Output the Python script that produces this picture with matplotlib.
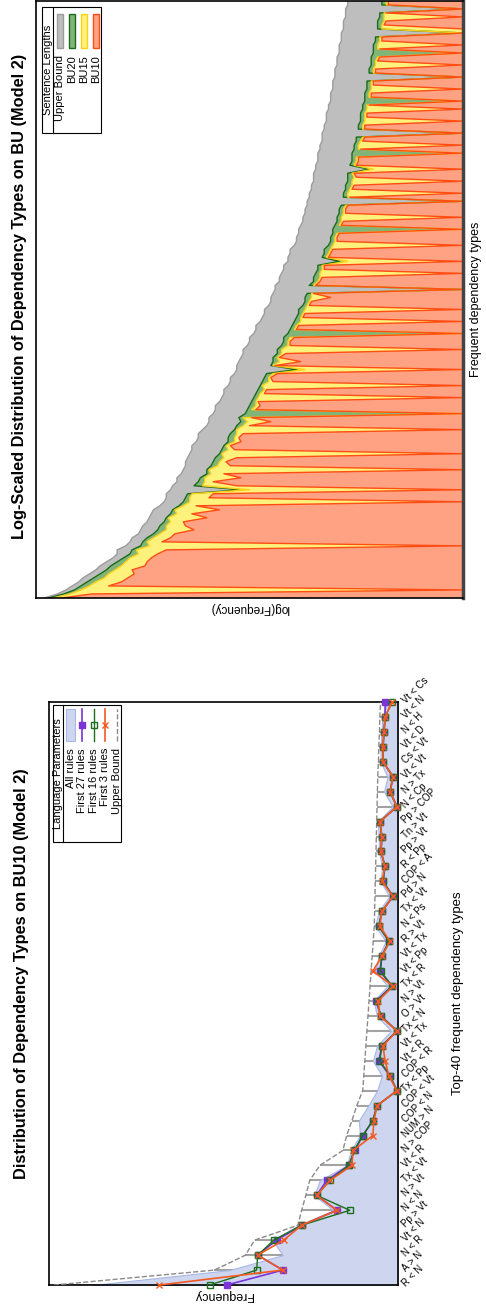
import numpy as np
import matplotlib
matplotlib.use("Agg")
import matplotlib.pyplot as plt
from matplotlib.patches import Rectangle
from matplotlib.lines import Line2D

plt.rcParams['font.family'] = ['Liberation Sans', 'DejaVu Sans']

# ---- log-scaled distribution over all frequent dependency types (log frequency) ----
upper_bound = [
    9.8, 9.5, 9.3, 9.15, 9.0, 8.9, 8.75, 8.6, 8.5, 8.35,
    8.2, 8.1, 8.1, 7.9, 7.8, 7.75, 7.6, 7.55, 7.5, 7.4,
    7.35, 7.3, 7.25, 7.1, 7.0, 6.95, 6.95, 6.85, 6.8, 6.7,
    6.7, 6.6, 6.55, 6.5, 6.5, 6.45, 6.4, 6.35, 6.35, 6.25,
    6.2, 6.2, 6.1, 6.0, 5.95, 5.95, 5.85, 5.8, 5.8, 5.7,
    5.65, 5.6, 5.6, 5.5, 5.45, 5.45, 5.35, 5.3, 5.3, 5.25,
    5.2, 5.15, 5.15, 5.05, 5.0, 5.0, 4.9, 4.85, 4.85, 4.75,
    4.7, 4.65, 4.65, 4.55, 4.5, 4.5, 4.45, 4.4, 4.4, 4.3,
    4.3, 4.25, 4.2, 4.2, 4.1, 4.1, 4.05, 4.05, 3.95, 3.9,
    3.9, 3.85, 3.85, 3.8, 3.75, 3.75, 3.7, 3.7, 3.65, 3.65,
    3.6, 3.6, 3.55, 3.55, 3.5, 3.5, 3.5, 3.45, 3.45, 3.4,
    3.4, 3.4, 3.35, 3.35, 3.3, 3.3, 3.3, 3.25, 3.25, 3.2,
    3.2, 3.2, 3.15, 3.15, 3.1, 3.1, 3.1, 3.05, 3.05, 3.05,
    3.0, 3.0, 3.0, 2.95, 2.95, 2.95, 2.9, 2.9, 2.9, 2.85,
    2.85, 2.85, 2.8, 2.8, 2.8, 2.75, 2.75, 2.75, 2.7, 2.7,
]
bu20 = [
    9.7, 9.35, 9.1, 8.95, 8.8, 8.65, 8.5, 8.35, 8.25, 8.1,
    7.95, 7.8, 7.75, 7.55, 7.5, 7.4, 7.25, 7.15, 7.1, 7.0,
    6.95, 6.85, 6.8, 6.65, 6.55, 6.5, 6.45, 5.2, 6.3, 6.2,
    6.15, 6.0, 6.0, 5.9, 5.85, 5.8, 5.7, 5.65, 5.6, 5.5,
    5.5, 5.45, 5.35, 5.3, 5.2, 5.25, 5.1, 5.05, 5.0, 4.95,
    4.9, 4.85, 4.8, 4.75, 4.7, 4.65, 4.6, 3.9, 4.5, 4.45,
    4.45, 4.35, 4.35, 4.25, 4.2, 4.2, 4.1, 4.05, 4.0, 3.95,
    3.9, 3.85, 3.85, 3.75, 3.7, 3.7, 3.65, 0.0, 3.6, 3.5,
    3.5, 3.45, 3.4, 3.4, 2.9, 3.3, 3.25, 3.25, 3.15, 3.1,
    3.1, 3.05, 3.05, 3.0, 2.95, 2.95, 2.9, 2.9, 2.85, 0.0,
    2.8, 2.8, 2.75, 2.75, 2.7, 2.7, 2.7, 2.2, 2.65, 2.6,
    2.6, 2.6, 2.55, 2.55, 2.5, 2.5, 0.0, 2.45, 2.45, 2.4,
    2.4, 2.4, 2.35, 2.35, 2.3, 2.3, 2.3, 2.25, 2.25, 2.25,
    0.0, 2.2, 2.2, 2.15, 2.15, 2.15, 2.1, 2.1, 2.1, 2.05,
    2.05, 0.0, 2.0, 2.0, 2.0, 1.95, 1.95, 0.0, 1.9, 1.9,
]
bu15 = [
    9.6, 9.2, 8.95, 8.75, 8.6, 8.4, 8.3, 8.15, 8.0, 7.9,
    7.8, 7.6, 7.65, 7.35, 7.4, 7.25, 7.1, 6.95, 6.95, 6.85,
    6.9, 6.7, 6.75, 6.55, 6.4, 6.4, 6.35, 5.0, 6.1, 6.05,
    6.05, 5.9, 5.95, 5.75, 5.7, 5.6, 5.65, 5.5, 5.55, 5.35,
    5.35, 5.3, 5.3, 5.15, 5.05, 5.15, 0.0, 4.95, 4.85, 4.85,
    4.8, 4.75, 4.65, 4.7, 4.55, 4.55, 4.45, 3.7, 4.45, 4.3,
    4.35, 4.25, 4.25, 4.1, 4.1, 4.05, 0.0, 3.95, 3.9, 3.8,
    3.8, 3.75, 3.7, 3.65, 3.6, 3.55, 3.55, 0.0, 3.5, 3.4,
    3.35, 3.35, 3.3, 3.3, 2.7, 3.2, 3.15, 3.1, 3.05, 3.0,
    3.0, 2.95, 0.0, 2.9, 2.85, 2.85, 2.8, 2.8, 2.75, 0.0,
    2.7, 2.7, 2.65, 2.6, 2.6, 2.55, 2.6, 2.1, 2.55, 2.5,
    2.5, 0.0, 2.45, 2.45, 2.4, 2.35, 0.0, 2.35, 2.35, 2.3,
    2.3, 2.3, 2.25, 2.25, 0.0, 2.2, 2.2, 2.15, 2.15, 2.15,
    0.0, 2.1, 2.1, 2.05, 2.05, 2.0, 0.0, 2.0, 2.0, 1.95,
    1.95, 0.0, 1.9, 1.9, 1.85, 1.85, 1.85, 0.0, 1.8, 1.8,
]
bu10 = [
    9.4, 8.7, 0.0, 8.3, 8.0, 7.85, 7.7, 7.75, 7.45, 7.4,
    7.3, 7.15, 6.95, 0.0, 7.05, 6.85, 6.75, 6.3, 6.5, 6.55,
    6.0, 6.35, 5.7, 6.25, 0.0, 5.95, 5.85, 0.0, 5.3, 5.85,
    5.2, 5.6, 0.0, 5.45, 5.55, 5.3, 0.0, 5.35, 5.45, 5.2,
    5.25, 5.15, 0.0, 5.0, 4.5, 4.95, 0.0, 4.85, 4.75, 4.8,
    0.0, 4.65, 4.6, 0.0, 4.45, 4.5, 4.35, 0.0, 4.4, 3.8,
    4.3, 4.15, 0.0, 4.05, 4.05, 3.95, 0.0, 3.9, 3.85, 0.0,
    3.75, 3.7, 0.0, 3.6, 3.55, 3.1, 3.5, 0.0, 3.45, 3.35,
    3.3, 0.0, 3.25, 3.25, 0.0, 3.15, 3.1, 3.05, 0.0, 2.95,
    2.95, 2.9, 0.0, 2.85, 2.8, 0.0, 2.75, 2.75, 2.7, 0.0,
    2.65, 0.0, 2.6, 2.55, 0.0, 2.5, 2.55, 0.0, 2.5, 2.45,
    2.45, 0.0, 2.4, 0.0, 2.35, 2.3, 0.0, 2.3, 2.3, 0.0,
    2.25, 2.25, 0.0, 2.2, 0.0, 2.15, 2.15, 0.0, 2.1, 2.1,
    0.0, 2.05, 2.05, 0.0, 2.0, 1.95, 0.0, 1.95, 0.0, 1.9,
    1.9, 0.0, 0.0, 1.85, 1.8, 0.0, 1.8, 0.0, 1.75, 1.75,
]

# ---- top-40 dependency types on BU10 (frequency) ----
dep_types = [
    'R < N', 'A > N', 'N < R', 'Vt < N', 'Pp > Vt', 'N < N', 'N > Vt', 'Tx < Vt',
    'Vt < R', 'N > COP', 'NUM > N', 'COP < N', 'COP < Vt', 'Tx < Pp', 'COP < R',
    'Vt < R', 'Vt < Tx', 'Tx < N', 'O > Vt', 'N > Vt', 'Tx < R', 'Vt < Pp',
    'Vt < Tx', 'R > Vt', 'N < Ps', 'Tx < Vt', 'Pd > N', 'COP < A', 'R < Pp',
    'Pp > Vt', 'Tn > Vt', 'Pp > COP', 'N < Cp', 'N > Tx', 'Vt < Vt', 'Cs < Vt',
    'Vt < D', 'N < H', 'Vt < N', 'Vt < Cs',
]
top40_bound = [
    98.6, 52.6, 43.7, 41.1, 28.7, 27.6, 26.4, 25.3, 22.4, 15.8,
    14.7, 13.2, 11.8, 10.1, 9.8, 9.5, 9.2, 8.9, 8.6, 8.3,
    8.0, 7.7, 7.4, 7.1, 6.8, 6.7, 6.6, 6.5, 6.4, 6.3,
    6.2, 6.1, 6.0, 5.9, 5.8, 5.6, 5.5, 5.3, 5.2, 5.0,
]
all_rules = [
    87.6, 48.3, 33.0, 36.0, 28.5, 18.5, 24.0, 22.4, 14.7, 13.5,
    10.9, 11.2, 8.5, 6.0, 4.6, 7.2, 6.0, 2.0, 6.0, 7.0,
    3.0, 6.5, 5.5, 3.5, 6.5, 5.5, 2.5, 5.0, 4.5, 5.5,
    5.5, 5.8, 1.5, 4.0, 3.0, 5.0, 5.0, 4.7, 4.5, 3.0,
]
first27 = [
    49.1, 33.0, 40.2, 34.8, 27.6, 17.5, 23.3, 20.4, 14.1, 12.4,
    10.1, 7.2, 6.0, 0.3, 2.3, 5.5, 4.6, 0.3, 4.9, 6.3,
    1.7, 5.2, 4.6, 2.6, 5.5, 4.6, 1.4, 4.3, 3.7, 4.9,
    4.6, 5.2, 0.3, 2.3, 1.4, 4.3, 4.3, 4.0, 3.7, 3.7,
]
first16 = [
    54.0, 40.5, 40.2, 35.6, 27.6, 13.8, 23.3, 19.5, 14.1, 12.6,
    10.1, 7.2, 6.0, 0.3, 2.3, 5.2, 4.6, 0.3, 4.9, 6.0,
    1.7, 5.0, 4.6, 2.6, 5.5, 4.6, 1.4, 4.3, 3.7, 4.9,
    4.6, 5.2, 0.3, 2.3, 1.4, 4.3, 4.3, 4.0, 3.7, 1.7,
]
first3 = [
    68.4, 33.0, 40.2, 32.8, 27.6, 17.5, 23.3, 19.5, 13.2, 12.9,
    7.2, 6.9, 6.0, 0.3, 2.6, 3.7, 4.3, 0.3, 5.2, 5.7,
    1.4, 7.2, 4.6, 2.3, 5.2, 4.6, 1.4, 4.6, 3.7, 4.9,
    4.6, 5.2, 0.3, 2.3, 1.4, 4.3, 4.3, 4.0, 3.7, 1.7,
]

fig = plt.figure(figsize=(4.86, 13.07), dpi=100)

# ================= top panel =================
ax1 = fig.add_axes([0.0741, 0.5425, 0.8786, 0.4568])
pos1 = np.arange(len(upper_bound))
layers = [
    ('Upper Bound', upper_bound, '#bebebe', '#9c9c9c'),
    ('BU20', bu20, '#82b478', '#1c6b1c'),
    ('BU15', bu15, '#fff27c', '#ffd21a'),
    ('BU10', bu10, '#ffa283', '#ff4d14'),
]
for name, vals, fc, ec in layers:
    ax1.fill_betweenx(pos1, 0, vals, facecolor=fc, lw=0)
    ax1.plot(vals, pos1, color=ec, lw=1)
ax1.set_ylim(0, len(upper_bound) - 1)
ax1.set_xlim(10, 0)
ax1.set_xticks([])
ax1.set_yticks([])
for s in ax1.spines.values():
    s.set_linewidth(1.2)
ax1.spines['right'].set_linewidth(2.5)
ax1.spines['right'].set_color('#444444')
ax1.yaxis.set_label_position('right')
ax1.set_ylabel('Frequent dependency types', fontsize=9, labelpad=5)
ax1.set_xlabel('log(Frequency)', rotation=180, fontsize=8.5, labelpad=3)

# legend box, drawn sideways like the rest of the panel
T = ax1.transAxes
ax1.add_patch(Rectangle((0.014, 0.779), 0.138, 0.211, transform=T,
                        fc='white', ec='black', lw=0.8, zorder=5))
ax1.add_line(Line2D([0.040, 0.040], [0.779, 0.990], transform=T,
                    color='black', lw=0.8, zorder=6))
ax1.text(0.027, 0.884, 'Sentence Lengths', rotation=90, ha='center',
         va='center', fontsize=8, transform=T, zorder=6)
for k, (name, vals, fc, ec) in enumerate(layers):
    xc = 0.057 + k * 0.0276
    ax1.add_patch(Rectangle((xc - 0.007, 0.921), 0.014, 0.057, transform=T,
                            fc=fc, ec=ec, lw=1, zorder=6))
    ax1.text(xc, 0.9095, name, rotation=90, ha='center', va='top',
             fontsize=8, transform=T, zorder=6)

fig.text(0.041, 0.7735, 'Log-Scaled Distribution of Dependency Types on BU (Model 2)',
         rotation=90, ha='center', va='center', fontsize=11.8, fontweight='bold')

# ================= bottom panel =================
ax2 = fig.add_axes([0.1008, 0.0168, 0.7181, 0.4461])
pos2 = np.arange(len(dep_types))
ax2.hlines(pos2, 0, top40_bound, color='#a3a3a3', lw=1.5, zorder=1)
ax2.fill_betweenx(pos2, 0, all_rules, facecolor='#cdd5ef', edgecolor='#a9b7e6',
                  lw=0.8, zorder=2)
ax2.plot(top40_bound, pos2, ls='--', color='#8a8a8a', lw=1, zorder=3)
ax2.plot(first27, pos2, color='#7a34d8', marker='s', ms=5, lw=1.2,
         clip_on=False, zorder=4)
ax2.plot(first16, pos2, color='#1b6e1b', marker='s', ms=5, mfc='none',
         mew=1, lw=1, clip_on=False, zorder=5)
ax2.plot(first3, pos2, color='#f25a22', marker='x', ms=5, mew=1, lw=1.2,
         clip_on=False, zorder=6)
ax2.set_ylim(0, len(dep_types) - 1)
ax2.set_xlim(100, 0)
ax2.set_xticks([])
ax2.yaxis.tick_right()
ax2.set_yticks(pos2)
ax2.set_yticklabels(dep_types, rotation=45, ha='left', va='center',
                    rotation_mode='anchor', fontsize=7)
ax2.tick_params(axis='y', length=0, pad=4)
for s in ax2.spines.values():
    s.set_linewidth(1.2)
ax2.yaxis.set_label_position('right')
ax2.set_ylabel('Top-40 frequent dependency types', fontsize=9.5)
ax2.yaxis.set_label_coords(1.155, 0.5)
ax2.set_xlabel('Frequency', rotation=180, fontsize=9, labelpad=3)

T2 = ax2.transAxes
ax2.add_patch(Rectangle((0.0115, 0.760), 0.195, 0.235, transform=T2,
                        fc='white', ec='black', lw=0.8, zorder=7))
ax2.add_line(Line2D([0.040, 0.040], [0.760, 0.995], transform=T2,
                    color='black', lw=0.8, zorder=8))
ax2.text(0.026, 0.8775, 'Language Parameters', rotation=90, ha='center',
         va='center', fontsize=8, transform=T2, zorder=8)
legend_rows = [
    ('All rules', None),
    ('First 27 rules', dict(color='#7a34d8', marker='s', ms=5, lw=1.2)),
    ('First 16 rules', dict(color='#1b6e1b', marker='s', ms=5, mfc='none', mew=1, lw=1)),
    ('First 3 rules', dict(color='#f25a22', marker='x', ms=5, mew=1, lw=1.2)),
    ('Upper Bound', dict(color='#8a8a8a', ls='--', lw=1)),
]
for k, (name, style) in enumerate(legend_rows):
    xc = 0.062 + k * 0.033
    if style is None:
        ax2.add_patch(Rectangle((xc - 0.012, 0.933), 0.024, 0.055, transform=T2,
                                fc='#cdd5ef', ec='#a9b7e6', lw=0.8, zorder=8))
    else:
        mk = {k2: v for k2, v in style.items() if k2 in ('marker', 'ms', 'mfc', 'mew')}
        ln = {k2: v for k2, v in style.items() if k2 not in mk}
        ax2.add_line(Line2D([xc, xc], [0.933, 0.988], transform=T2, zorder=8, **ln))
        if mk:
            ax2.add_line(Line2D([xc], [0.9605], transform=T2, zorder=9,
                                color=style['color'], ls='none', **mk))
    ax2.text(xc, 0.921, name, rotation=90, ha='center', va='top',
             fontsize=8, transform=T2, zorder=8)

fig.text(0.045, 0.2548, 'Distribution of Dependency Types on BU10 (Model 2)',
         rotation=90, ha='center', va='center', fontsize=11.8, fontweight='bold')

fig.savefig('out.png', dpi=100)
